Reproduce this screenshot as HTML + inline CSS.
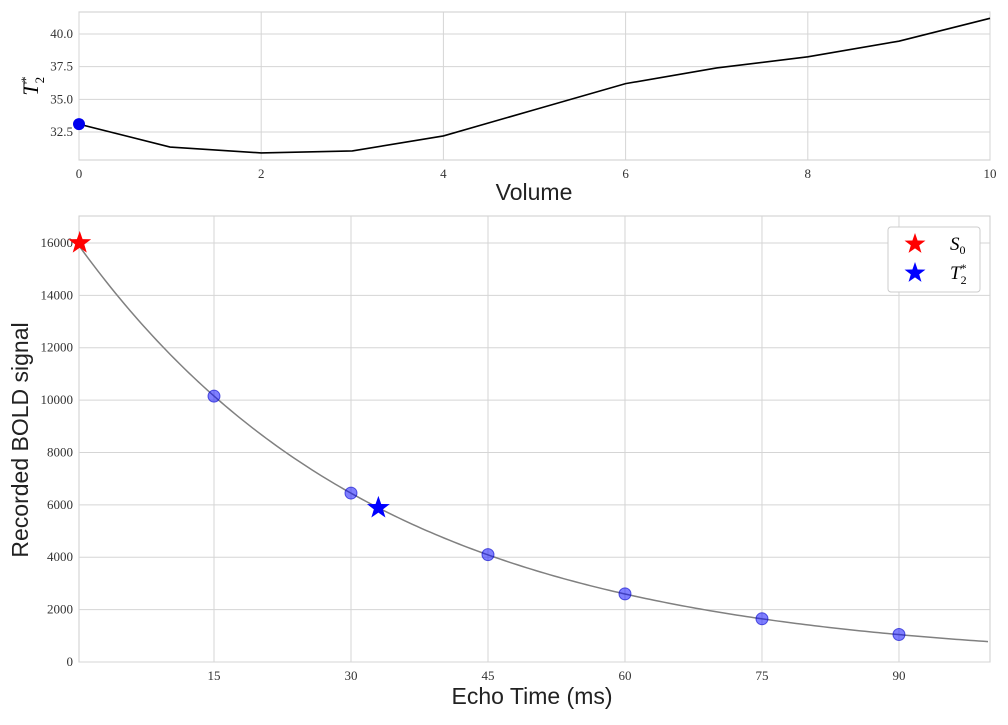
<!DOCTYPE html>
<html><head><meta charset="utf-8">
<style>
html,body{margin:0;padding:0;background:#fff;}
svg text{font-family:"Liberation Serif",serif;}
.lab{font-family:"Liberation Sans",sans-serif;font-size:23px;fill:#222;}
.tick{font-size:13px;fill:#333;}
</style></head>
<body>
<svg id="chart" width="1008" height="720" xmlns="http://www.w3.org/2000/svg">
<g id="top"></g>
<g id="bot"></g>
</svg>
<script>
const volumes=[0,1,2,3,4,5,6,7,8,9,10];
const t2Values=[33.1,31.35,30.9,31.05,32.2,34.2,36.2,37.4,38.25,39.45,41.2];
const topXTicks=[0,2,4,6,8,10];
const topYTicks=[32.5,35.0,37.5,40.0];
const echoTimes=[15,30,45,60,75,90];
const signals=[10150,6450,4100,2600,1650,1050];
const s0Value=[16000];
const t2Fit=[33];
const botXTicks=[15,30,45,60,75,90];
const botYTicks=[0,2000,4000,6000,8000,10000,12000,14000,16000];
const NS="http://www.w3.org/2000/svg";
function mk(p,t,a,txt){const e=document.createElementNS(NS,t);for(const k in a)e.setAttribute(k,a[k]);if(txt!==undefined)e.textContent=txt;p.appendChild(e);return e;}
// top panel
const T=document.getElementById('top');
const tL=79,tR=990,tT=12,tB=160;
const tx=v=>tL+(v-0)/10*(tR-tL);
const ty=v=>132-(v-32.5)*13.07;
let e=mk(T,'rect',{x:tL,y:tT,width:tR-tL,height:tB-tT,fill:'#fff',stroke:'#ccc'});

topXTicks.forEach(v=>{mk(T,'line',{x1:tx(v),x2:tx(v),y1:tT,y2:tB,stroke:'#d5d5d5'});
 e=mk(T,'text',{x:tx(v),y:tB+18,'text-anchor':'middle',class:'tick'},v);
 });
topYTicks.forEach(v=>{mk(T,'line',{x1:tL,x2:tR,y1:ty(v),y2:ty(v),stroke:'#d5d5d5'});
 e=mk(T,'text',{x:tL-6,y:ty(v)+4,'text-anchor':'end',class:'tick'},v.toFixed(1));
 });
e=mk(T,'polyline',{points:volumes.map((v,i)=>tx(v)+','+ty(t2Values[i])).join(' '),fill:'none',stroke:'#000','stroke-width':1.6});

e=mk(T,'circle',{cx:tx(volumes[0]),cy:ty(t2Values[0]),r:6,fill:'#0000ee'});

e=mk(T,'text',{x:534,y:200,'text-anchor':'middle',class:'lab'},'Volume');

e=mk(T,'text',{x:0,y:0,transform:'translate(38,86) rotate(-90)','text-anchor':'middle','font-size':'22','font-style':'italic'},'T');

mk(e,'tspan',{'font-size':'13',dy:'6','font-style':'normal'},'2');
mk(e,'tspan',{'font-size':'13',dy:'-14',dx:'-6','font-style':'normal'},'*');
// bottom panel
const B=document.getElementById('bot');
const bL=79,bR=990,bT=216,bB=662;
const bx=v=>77+v*9.133;
const by=v=>662-v*0.02619;
e=mk(B,'rect',{x:bL,y:bT,width:bR-bL,height:bB-bT,fill:'#fff',stroke:'#ccc'});

botXTicks.forEach(v=>{mk(B,'line',{x1:bx(v),x2:bx(v),y1:bT,y2:bB,stroke:'#d5d5d5'});
 e=mk(B,'text',{x:bx(v),y:bB+18,'text-anchor':'middle',class:'tick'},v);
 });
botYTicks.forEach(v=>{mk(B,'line',{x1:bL,x2:bR,y1:by(v),y2:by(v),stroke:'#d5d5d5'});
 e=mk(B,'text',{x:bL-6,y:by(v)+4,'text-anchor':'end',class:'tick'},v);
 });
let pts=[];for(let t=0.25;t<=100;t+=0.5)pts.push(bx(t)+','+by(s0Value[0]*Math.exp(-t/t2Fit[0])));
e=mk(B,'polyline',{points:pts.join(' '),fill:'none',stroke:'#808080','stroke-width':1.5});

echoTimes.forEach((t,i)=>{e=mk(B,'circle',{cx:bx(t),cy:by(signals[i]),r:6,fill:'rgba(0,0,255,0.5)',stroke:'rgba(0,0,200,0.6)'});
 });
function star(cx,cy,r,fill){const p=[];for(let i=0;i<10;i++){const a=-Math.PI/2+i*Math.PI/5,rr=i%2?r*0.4:r;p.push((cx+rr*Math.cos(a))+','+(cy+rr*Math.sin(a)));}return mk(B,'polygon',{points:p.join(' '),fill:fill});}
e=star(bx(0.3),by(s0Value[0]),12,'#ff0000');

e=star(bx(t2Fit[0]),by(s0Value[0]*Math.exp(-1)),12,'#0000ff');

const lg=mk(B,'g',{});

mk(lg,'rect',{x:888,y:227,width:92,height:65,rx:3,fill:'#fff',stroke:'#ccc'});
(function(){const s=star(915,244,11,'#ff0000');lg.appendChild(s);const s2=star(915,273,11,'#0000ff');lg.appendChild(s2);})();
e=mk(lg,'text',{x:950,y:250,'font-size':'19','font-style':'italic'},'S');

mk(e,'tspan',{'font-size':'12',dy:'4','font-style':'normal'},'0');
e=mk(lg,'text',{x:950,y:279,'font-size':'19','font-style':'italic'},'T');

mk(e,'tspan',{'font-size':'12',dy:'5','font-style':'normal'},'2');
mk(e,'tspan',{'font-size':'12',dy:'-12',dx:'-6','font-style':'normal'},'*');
e=mk(B,'text',{x:532,y:704,'text-anchor':'middle',class:'lab'},'Echo Time (ms)');

e=mk(B,'text',{x:0,y:0,transform:'translate(28,440) rotate(-90)','text-anchor':'middle',class:'lab'},'Recorded BOLD signal');

</script>
</body></html>
